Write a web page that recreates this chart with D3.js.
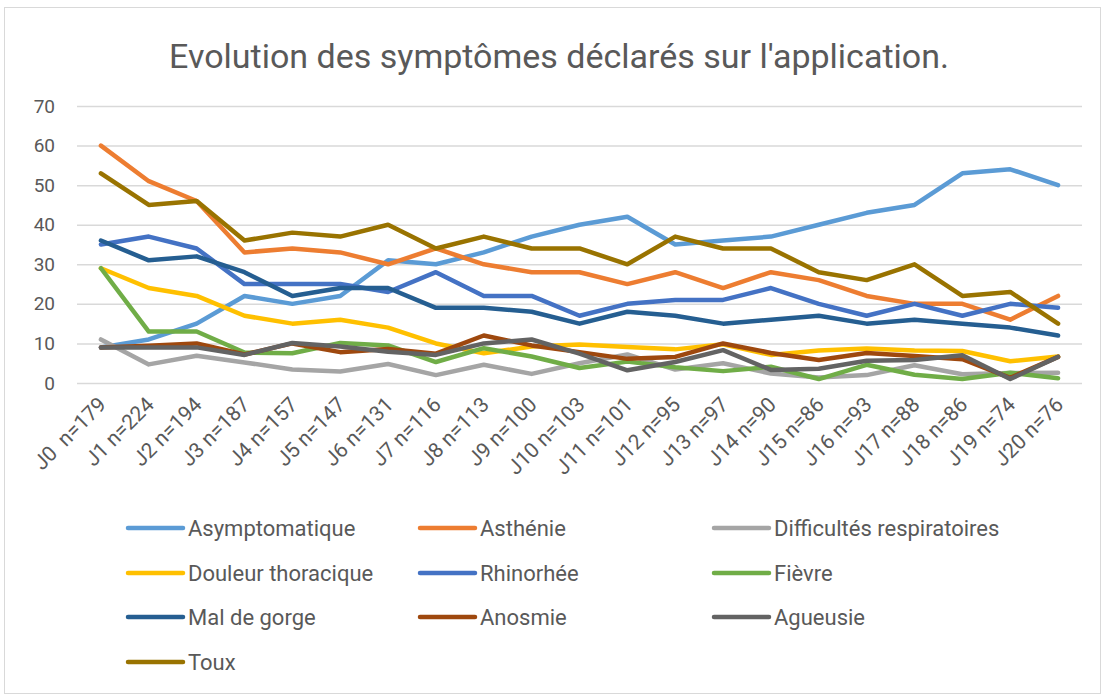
<!DOCTYPE html>
<html>
<head>
<meta charset="utf-8">
<script src="https://cdn.jsdelivr.net/npm/d3@7"></script>
<style>
  body { margin: 0; background: #fff; }
  svg text { font-family: "Roboto", "Noto Sans", sans-serif; fill: #595959; }
</style>
</head>
<body>
<div id="chart"></div>
<script>
// categories (day + sample size)
var days = ["J0  n=179", "J1 n=224", "J2 n=194", "J3 n=187", "J4 n=157", "J5 n=147", "J6 n=131",
  "J7 n=116", "J8 n=113", "J9 n=100", "J10 n=103", "J11 n=101", "J12 n=95", "J13 n=97",
  "J14 n=90", "J15 n=86", "J16 n=93", "J17 n=88", "J18 n=86", "J19 n=74", "J20 n=76"];

var yTicks = [0, 10, 20, 30, 40, 50, 60, 70];

// series values (%)
var asymptomatique = [9, 11, 15, 22, 20, 22, 31, 30, 33, 37, 40, 42, 35, 36, 37, 40, 43, 45, 53, 54, 50];
var asthenie       = [60, 51, 46, 33, 34, 33, 30, 34, 30, 28, 28, 25, 28, 24, 28, 26, 22, 20, 20, 16, 22];
var difficultes    = [11, 4.7, 6.9, 5.2, 3.4, 2.9, 4.8, 2, 4.6, 2.3, 5, 7.2, 3.4, 5, 2.4, 1.4, 2, 4.5, 2.2, 2.5, 2.6];
var douleur        = [29, 24, 22, 17, 15, 16, 14, 10, 7.5, 9.2, 9.7, 9.1, 8.5, 9.8, 7.1, 8.2, 8.7, 8.2, 8.1, 5.5, 6.7];
var rhinorhee      = [35, 37, 34, 25, 25, 25, 23, 28, 22, 22, 17, 20, 21, 21, 24, 20, 17, 20, 17, 20, 19];
var fievre         = [29, 13, 13, 7.7, 7.5, 10.1, 9.5, 5.3, 8.8, 6.7, 3.8, 5.4, 4, 3, 4.1, 1, 4.6, 2.1, 1, 2.6, 1.2];
var malDeGorge     = [36, 31, 32, 28, 22, 24, 24, 19, 19, 18, 15, 18, 17, 15, 16, 17, 15, 16, 15, 14, 12];
var anosmie        = [9, 9.4, 10, 7.2, 10, 7.8, 8.6, 7.4, 12, 9.5, 7.8, 6.1, 6.6, 10, 7.6, 5.8, 7.6, 6.8, 6, 1.3, 6.6];
var agueusie       = [9, 9, 9, 7.1, 10.1, 9.2, 7.9, 7.1, 10, 11, 7.4, 3.2, 5.3, 8.3, 3.3, 3.6, 5.6, 5.8, 7, 1, 6.6];
var toux           = [53, 45, 46, 36, 38, 37, 40, 34, 37, 34, 34, 30, 37, 34, 34, 28, 26, 30, 22, 23, 15];

var seriesNames  = ["Asymptomatique", "Asthénie", "Difficultés respiratoires", "Douleur thoracique",
  "Rhinorhée", "Fièvre", "Mal de gorge", "Anosmie", "Agueusie", "Toux"];
var seriesValues = [asymptomatique, asthenie, difficultes, douleur, rhinorhee, fievre,
  malDeGorge, anosmie, agueusie, toux];
var seriesColors = ["#5B9BD5", "#ED7D31", "#A5A5A5", "#FFC000", "#4472C4", "#70AD47",
  "#255E91", "#9E480E", "#636363", "#997300"];

// #####################################################
// Chart frame
//
var W = 1105, H = 696;
var svg = d3.select("#chart").append("svg")
    .attr("width", W)
    .attr("height", H);

svg.append("rect")
    .attr("x", 4.5).attr("y", 7.5)
    .attr("width", 1096).attr("height", 686)
    .style("fill", "#FFFFFF")
    .style("stroke", "#D9D9D9")
    .attr("stroke-width", 1);

svg.append("text")
    .attr("x", 559).attr("y", 68)
    .style("text-anchor", "middle")
    .style("font-size", "34px")
    .text("Evolution des symptômes déclarés sur l'application.");

// #####################################################
// Scales and axes
//
var plot = {left: 77, right: 1082, top: 106, bottom: 383};

var x = d3.scalePoint().domain(days).range([plot.left, plot.right]).padding(0.5);
var y = d3.scaleLinear().domain([0, 70]).range([plot.bottom, plot.top]);

var yAxis = svg.append("g")
    .attr("transform", "translate(" + plot.left + ",0)")
    .call(d3.axisLeft(y).tickValues(yTicks).tickSize(-(plot.right - plot.left)).tickPadding(22));
yAxis.select(".domain").remove();
yAxis.selectAll(".tick line").style("stroke", "#D9D9D9").attr("stroke-width", 1.5);
yAxis.selectAll(".tick text").style("font-size", "19px").style("fill", "#595959");

var xAxis = svg.append("g")
    .attr("transform", "translate(0," + plot.bottom + ")")
    .call(d3.axisBottom(x).tickSize(0));
xAxis.select(".domain").remove();
xAxis.selectAll(".tick text")
    .style("font-size", "21px")
    .style("fill", "#595959")
    .style("text-anchor", "end")
    .style("white-space", "pre")
    .attr("dy", null)
    .attr("y", 0)
    .attr("transform", "translate(6,23) rotate(-45)");

// #####################################################
// Lines
//
var line = d3.line()
    .x(function(d, i) { return x(days[i]); })
    .y(function(d) { return y(d); });

svg.selectAll(".series")
    .data(seriesValues)
    .enter().append("path")
      .attr("class", "series")
      .attr("d", line)
      .style("fill", "none")
      .style("stroke", function(d, i) { return seriesColors[i]; })
      .attr("stroke-width", 4.5)
      .attr("stroke-linejoin", "round")
      .attr("stroke-linecap", "round");

// #####################################################
// Legend (3 columns)
//
var legendCols = [128, 420, 714];
var legendRows = [528, 573, 617, 662];

var legend = svg.selectAll(".legend")
    .data(seriesNames)
    .enter().append("g")
      .attr("class", "legend")
      .attr("transform", function(d, i) {
        return "translate(" + legendCols[i % 3] + "," + legendRows[Math.floor(i / 3)] + ")";
      });

legend.append("line")
    .attr("x1", 0).attr("x2", 55)
    .attr("y1", 0).attr("y2", 0)
    .style("stroke", function(d, i) { return seriesColors[i]; })
    .attr("stroke-width", 4.5)
    .attr("stroke-linecap", "round");

legend.append("text")
    .attr("x", 60).attr("y", 0)
    .attr("dy", "0.35em")
    .style("font-size", "22px")
    .text(function(d) { return d; });
</script>
</body>
</html>
